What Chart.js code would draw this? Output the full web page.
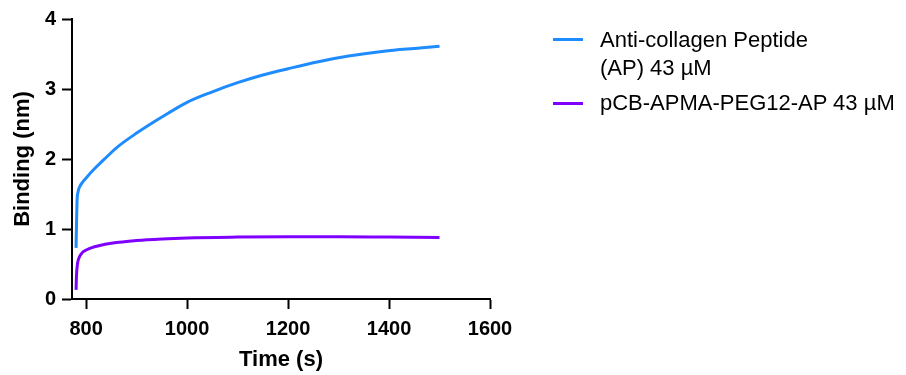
<!DOCTYPE html>
<html>
<head>
<meta charset="utf-8">
<script src="https://cdn.jsdelivr.net/npm/chart.js@4.4.1/dist/chart.umd.min.js"></script>
<style>
    body { margin: 0; background: #fff; }
    #wrap { position: relative; width: 906px; height: 375px; }
    .legend-line { position: absolute; left: 553px; width: 30px; height: 3px; }
    .legend-text {
        position: absolute; left: 600px;
        font-family: 'Liberation Sans', Arial, sans-serif;
        font-size: 22px; line-height: 28px; color: #000; white-space: nowrap;
    }
</style>
</head>
<body>
<div id="wrap">
    <canvas id="bindingChart"></canvas>
    <div class="legend-line" style="top: 38px; background: #1e8cff;"></div>
    <div class="legend-text" style="top: 26px;">Anti-collagen Peptide<br>(AP) 43 µM</div>
    <div class="legend-line" style="top: 102px; background: #8000ff;"></div>
    <div class="legend-text" style="top: 89px;">pCB-APMA-PEG12-AP 43 µM</div>
</div>
<script>
// Anti-collagen Peptide (AP) 43 uM
const apTime = [780, 781, 782, 784, 787, 792, 800, 815, 835, 860, 900, 950, 1000, 1050, 1100, 1150, 1200, 1260, 1320, 1390, 1450, 1500];
const apBinding = [0.73, 1.10, 1.40, 1.53, 1.60, 1.66, 1.73, 1.85, 1.99, 2.16, 2.37, 2.60, 2.81, 2.96, 3.09, 3.20, 3.29, 3.39, 3.47, 3.54, 3.58, 3.61];

// pCB-APMA-PEG12-AP 43 uM
const pcbTime = [780, 781, 783, 786, 790, 795, 800, 810, 825, 850, 900, 950, 1000, 1100, 1200, 1300, 1400, 1500];
const pcbBinding = [0.13, 0.35, 0.51, 0.59, 0.64, 0.68, 0.70, 0.73, 0.76, 0.795, 0.835, 0.858, 0.872, 0.884, 0.89, 0.89, 0.885, 0.88];

const xTicks = [800, 1000, 1200, 1400, 1600];
const yTicks = [0, 1, 2, 3, 4];

const toPoints = (xs, ys) => xs.map((x, i) => ({ x: x, y: ys[i] }));

const fontFamily = "'Liberation Sans', Arial, sans-serif";

new Chart(document.getElementById('bindingChart'), {
    type: 'line',
    data: {
        datasets: [
            {
                label: 'Anti-collagen Peptide (AP) 43 µM',
                data: toPoints(apTime, apBinding),
                borderColor: '#1e8cff',
                borderWidth: 3,
                pointRadius: 0,
                cubicInterpolationMode: 'monotone'
            },
            {
                label: 'pCB-APMA-PEG12-AP 43 µM',
                data: toPoints(pcbTime, pcbBinding),
                borderColor: '#8000ff',
                borderWidth: 3,
                pointRadius: 0,
                cubicInterpolationMode: 'monotone'
            }
        ]
    },
    options: {
        responsive: true,
        maintainAspectRatio: false,
        animation: false,
        layout: { padding: { top: 19, right: 416, left: 0, bottom: 0 } },
        plugins: {
            legend: { display: false },
            tooltip: { enabled: false }
        },
        scales: {
            x: {
                type: 'linear',
                min: 772,
                max: 1600,
                afterBuildTicks: axis => { axis.ticks = xTicks.map(v => ({ value: v })); },
                afterFit: axis => { axis.height = 76; },
                grid: { drawOnChartArea: false, tickLength: 10, tickWidth: 2, tickColor: '#000' },
                border: { color: '#000', width: 2 },
                ticks: {
                    color: '#000',
                    padding: 8,
                    maxRotation: 0,
                    callback: v => String(v),
                    font: { family: fontFamily, size: 20, weight: 'bold' }
                },
                title: {
                    display: true,
                    text: 'Time (s)',
                    color: '#000',
                    padding: { top: 0, bottom: 2 },
                    font: { family: fontFamily, size: 22, weight: 'bold' }
                }
            },
            y: {
                min: 0,
                max: 4,
                afterBuildTicks: axis => { axis.ticks = yTicks.map(v => ({ value: v })); },
                afterFit: axis => { axis.width = 72; },
                grid: { drawOnChartArea: false, tickLength: 10, tickWidth: 2, tickColor: '#000' },
                border: { color: '#000', width: 2 },
                ticks: {
                    color: '#000',
                    padding: 6,
                    callback: v => String(v),
                    font: { family: fontFamily, size: 20, weight: 'bold' }
                },
                title: {
                    display: true,
                    text: 'Binding (nm)',
                    color: '#000',
                    padding: { top: 10, bottom: 0 },
                    font: { family: fontFamily, size: 22, weight: 'bold' }
                }
            }
        }
    }
});
</script>
</body>
</html>
